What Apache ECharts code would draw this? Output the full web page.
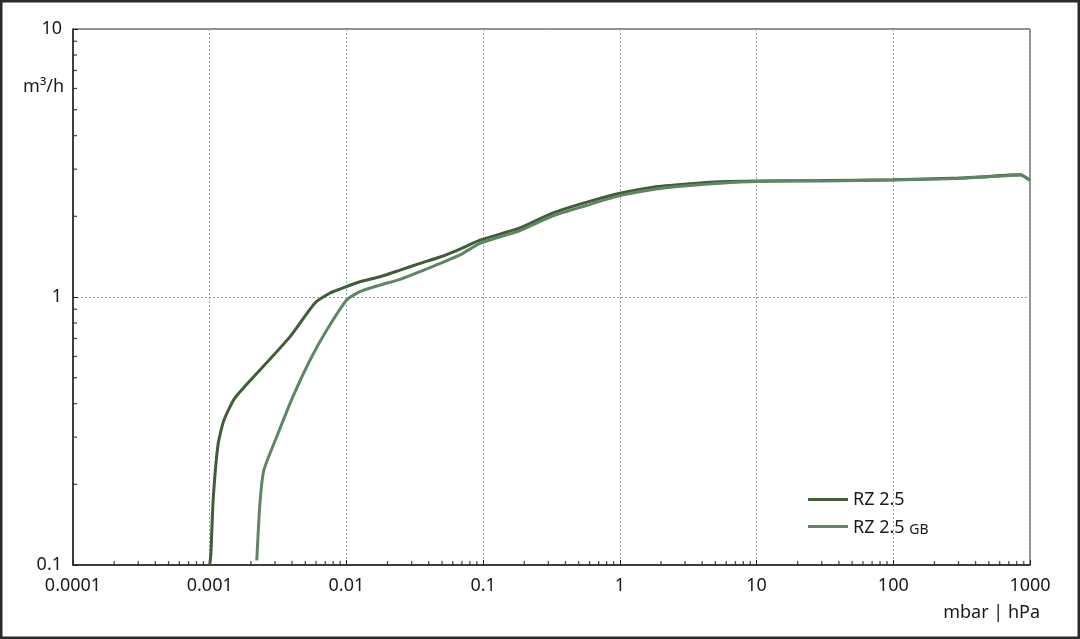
<!DOCTYPE html>
<html>
<head>
<meta charset="utf-8">
<script src="https://cdn.jsdelivr.net/npm/echarts@6/dist/echarts.min.js"></script>
<style>
html,body{margin:0;padding:0;background:#fff;}
#chart{width:1080px;height:639px;}
</style>
</head>
<body>
<div id="chart"></div>
<script>
// Data
const rzX = [0.001, 0.00102, 0.00106, 0.00115, 0.00127, 0.00153, 0.00233, 0.00386, 0.00589, 0.00759, 0.00897, 0.01257, 0.0176, 0.0247, 0.0345, 0.0484, 0.0678, 0.0948, 0.186, 0.324, 0.575, 1, 1.75, 3.1, 5.41, 10, 30, 100, 300, 700, 850, 1000];
const rzY = [0.1, 0.11, 0.175, 0.281, 0.347, 0.42, 0.534, 0.71, 0.95, 1.035, 1.07, 1.14, 1.19, 1.26, 1.335, 1.41, 1.51, 1.63, 1.81, 2.06, 2.26, 2.44, 2.57, 2.64, 2.69, 2.71, 2.72, 2.74, 2.78, 2.85, 2.86, 2.73];
const gbX = [0.00221, 0.00233, 0.00249, 0.00309, 0.00406, 0.00542, 0.00718, 0.01005, 0.01257, 0.0176, 0.0247, 0.0345, 0.0484, 0.0678, 0.0948, 0.186, 0.324, 0.575, 1, 1.75, 3.1, 5.41, 10, 30, 100, 300, 700, 850, 1000];
const gbY = [0.104, 0.170, 0.226, 0.301, 0.425, 0.582, 0.753, 0.975, 1.047, 1.108, 1.164, 1.243, 1.335, 1.435, 1.586, 1.77, 2.01, 2.20, 2.39, 2.52, 2.60, 2.66, 2.70, 2.71, 2.73, 2.77, 2.84, 2.85, 2.72];
const seriesNames = ['RZ 2.5', 'RZ 2.5 GB'];
const xTickLabels = ['0.0001', '0.001', '0.01', '0.1', '1', '10', '100', '1000'];
const yTickLabels = ['0.1', '1', '10'];
const minorMultipliers = [2, 3, 4, 5, 6, 7, 8, 9];
const xDecades = [0.0001, 0.001, 0.01, 0.1, 1, 10, 100];
const yDecades = [0.1, 1];

const FONT = '"Noto Sans", "Open Sans", sans-serif';
const TXT = '#1a1a1a';

const xMinor = [];
xDecades.forEach(d => minorMultipliers.forEach(m => xMinor.push([+(m * d).toPrecision(3), 0.1])));
const yMinor = [];
yDecades.forEach(d => minorMultipliers.forEach(m => yMinor.push([0.0001, +(m * d).toPrecision(3)])));

function fmt(v) {
  return String(+(+v).toPrecision(3));
}

const chart = echarts.init(document.getElementById('chart'), null, {renderer: 'canvas'});
chart.setOption({
  animation: false,
  backgroundColor: '#fff',
  grid: {left: 73, right: 50, top: 29, bottom: 74, show: true, borderColor: '#222', borderWidth: 1, backgroundColor: 'transparent'},
  xAxis: {
    type: 'log', logBase: 10, min: 0.0001, max: 1000,
    axisLine: {show: true, onZero: false, lineStyle: {color: '#222', width: 1.5}},
    axisTick: {show: true, inside: true, length: 5, lineStyle: {color: '#222'}},
    axisLabel: {color: TXT, fontFamily: FONT, fontSize: 18, margin: 12, showMinLabel: true, showMaxLabel: true,
      formatter: v => { const s = fmt(v); return xTickLabels.includes(s) ? s : ''; }},
    splitLine: {show: true, lineStyle: {color: '#97a6ad', type: [2, 2], width: 1}}
  },
  yAxis: {
    type: 'log', logBase: 10, min: 0.1, max: 10,
    axisLine: {show: true, onZero: false, lineStyle: {color: '#222', width: 1.5}},
    axisTick: {show: true, inside: true, length: 5, lineStyle: {color: '#222'}},
    axisLabel: {color: TXT, fontFamily: FONT, fontSize: 18, margin: 11, showMinLabel: true, showMaxLabel: true,
      formatter: v => { const s = fmt(v); return yTickLabels.includes(s) ? s : ''; }},
    splitLine: {show: true, lineStyle: {color: '#9a9a9a', type: [2, 2], width: 1}}
  },
  legend: {
    data: seriesNames,
    orient: 'vertical', left: 808, top: 489, padding: 0,
    icon: 'rect', itemWidth: 40, itemHeight: 3, itemGap: 6,
    textStyle: {color: TXT, fontFamily: FONT, fontSize: 18, lineHeight: 21,
      rich: {
        m: {fontFamily: FONT, fontSize: 18, color: TXT, lineHeight: 21, verticalAlign: 'bottom'},
        s: {fontFamily: FONT, fontSize: 14, color: TXT, lineHeight: 17, verticalAlign: 'bottom'}
      }},
    formatter: name => name === 'RZ 2.5 GB' ? '{m|RZ 2.5 }{s|GB}' : name
  },
  graphic: [
    {type: 'text', x: 64, y: 87, style: {text: 'm³/h', fill: TXT, font: '18px ' + FONT, align: 'right', verticalAlign: 'middle'}},
    {type: 'text', x: 1040, y: 613, style: {text: 'mbar | hPa', fill: TXT, font: '18px ' + FONT, align: 'right', verticalAlign: 'middle'}},
    {type: 'rect', x: 0, y: 0, shape: {width: 1080, height: 639}, style: {fill: 'none', stroke: '#2a2a2a', lineWidth: 5}, silent: true, z: 100}
  ],
  series: [
    {
      name: 'RZ 2.5', type: 'line', symbol: 'none', smooth: 0.2,
      data: rzX.map((x, i) => [x, rzY[i]]),
      lineStyle: {color: '#405c38', width: 3}, itemStyle: {color: '#405c38'}, z: 3
    },
    {
      name: 'RZ 2.5 GB', type: 'line', symbol: 'none', smooth: 0.2,
      data: gbX.map((x, i) => [x, gbY[i]]),
      lineStyle: {color: '#5f8566', width: 3}, itemStyle: {color: '#5f8566'}, z: 4
    },
    {
      name: 'xMinorTicks', type: 'scatter', silent: true, symbol: 'rect', symbolSize: [1.3, 4], symbolOffset: [0, -2],
      data: xMinor, itemStyle: {color: '#222'}, z: 5
    },
    {
      name: 'yMinorTicks', type: 'scatter', silent: true, symbol: 'rect', symbolSize: [4, 1.3], symbolOffset: [2, 0],
      data: yMinor, itemStyle: {color: '#222'}, z: 5
    }
  ]
});
</script>
</body>
</html>
